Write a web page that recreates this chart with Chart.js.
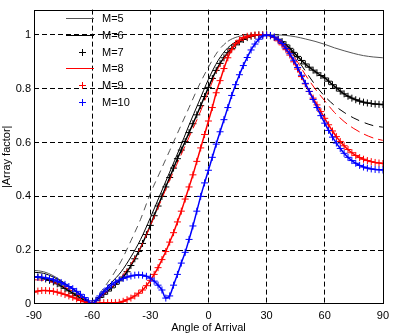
<!DOCTYPE html>
<html>
<head>
<meta charset="utf-8">
<script src="https://cdn.jsdelivr.net/npm/chart.js@4.4.0/dist/chart.umd.min.js"></script>
<style>
  html, body { margin: 0; padding: 0; background: #fff; }
  #wrap { width: 394px; height: 336px; }
</style>
</head>
<body>
<div id="wrap"><canvas id="af-chart" width="394" height="336"></canvas></div>
<script>
// angle grids (degrees)
const anglesCoarse = [-90,-85,-80,-75,-70,-65,-60,-55,-50,-45,-40,-35,-30,-25,-20,-15,-10,-5,0,5,10,15,20,25,30,35,40,45,50,55,60,65,70,75,80,85,90];
const anglesFine = [-90,-88,-86,-84,-82,-80,-78,-76,-74,-72,-70,-68,-66,-64,-62,-60,-58,-56,-54,-52,-50,-48,-46,-44,-42,-40,-38,-36,-34,-32,-30,-28,-26,-24,-22,-20,-18,-16,-14,-12,-10,-8,-6,-4,-2,0,2,4,6,8,10,12,14,16,18,20,22,24,26,28,30,32,34,36,38,40,42,44,46,48,50,52,54,56,58,60,62,64,66,68,70,72,74,76,78,80,82,84,86,88,90];

const xTicks = [-90, -60, -30, 0, 30, 60, 90];
const yTicks = [0, 0.2, 0.4, 0.6, 0.8, 1];
const seriesLabels = ['M=5', 'M=6', 'M=7', 'M=8', 'M=9', 'M=10'];

// line series (on anglesCoarse)
const m5 = [0.125,0.12,0.105,0.082,0.056,0.027,0.0,0.05,0.1,0.16,0.235,0.315,0.41,0.49,0.57,0.65,0.73,0.81,0.88,0.94,0.976,0.993,1.0,1.0,1.0,1.0,0.998,0.993,0.985,0.976,0.965,0.952,0.941,0.931,0.923,0.918,0.915];
const m6 = [0.118,0.114,0.1,0.08,0.055,0.027,0.0,0.042,0.08,0.12,0.175,0.24,0.32,0.405,0.49,0.575,0.665,0.75,0.835,0.905,0.952,0.978,0.994,1.0,1.0,0.99,0.962,0.918,0.866,0.815,0.772,0.738,0.712,0.691,0.675,0.663,0.657];
const m8 = [0.09,0.088,0.08,0.066,0.047,0.024,0.0,0.03,0.06,0.1,0.148,0.21,0.29,0.375,0.46,0.54,0.62,0.7,0.79,0.875,0.932,0.97,0.99,0.998,1.0,0.99,0.958,0.91,0.852,0.8,0.755,0.712,0.678,0.652,0.632,0.617,0.608];

// marker series (on anglesFine)
const m7 = [0.1,0.1,0.097,0.093,0.088,0.082,0.075,0.067,0.058,0.049,0.04,0.031,0.022,0.014,0.006,0.0,0.012,0.024,0.036,0.048,0.06,0.073,0.086,0.1,0.12,0.143,0.168,0.195,0.225,0.258,0.292,0.328,0.364,0.4,0.435,0.47,0.505,0.54,0.572,0.604,0.637,0.67,0.703,0.737,0.771,0.805,0.838,0.868,0.894,0.915,0.934,0.95,0.963,0.974,0.983,0.99,0.995,0.998,1.0,1.0,1.0,0.997,0.991,0.984,0.975,0.963,0.95,0.935,0.92,0.905,0.892,0.88,0.869,0.859,0.849,0.84,0.828,0.815,0.803,0.791,0.781,0.772,0.765,0.759,0.754,0.75,0.747,0.745,0.743,0.742,0.741];
const m9 = [0.044,0.048,0.05,0.05,0.049,0.047,0.044,0.04,0.035,0.03,0.025,0.019,0.013,0.008,0.003,0.0,0.002,0.004,0.005,0.005,0.005,0.005,0.006,0.01,0.016,0.022,0.03,0.04,0.052,0.068,0.088,0.11,0.135,0.165,0.195,0.23,0.265,0.305,0.345,0.39,0.435,0.48,0.53,0.58,0.63,0.68,0.73,0.785,0.83,0.875,0.915,0.945,0.967,0.98,0.99,0.995,0.998,1.0,1.0,1.0,1.0,0.997,0.99,0.978,0.963,0.945,0.925,0.9,0.873,0.845,0.818,0.79,0.765,0.74,0.715,0.69,0.666,0.643,0.622,0.604,0.588,0.574,0.562,0.552,0.544,0.538,0.533,0.529,0.526,0.524,0.522];
const m10 = [0.1,0.1,0.099,0.097,0.094,0.09,0.085,0.08,0.073,0.065,0.057,0.047,0.036,0.024,0.012,0.0,0.014,0.03,0.045,0.059,0.071,0.081,0.089,0.095,0.1,0.104,0.107,0.108,0.107,0.103,0.096,0.085,0.07,0.052,0.022,0.03,0.07,0.11,0.152,0.192,0.24,0.29,0.345,0.4,0.45,0.497,0.545,0.594,0.64,0.685,0.73,0.775,0.815,0.852,0.886,0.916,0.944,0.966,0.984,0.996,1.0,0.998,0.992,0.982,0.968,0.95,0.93,0.906,0.879,0.85,0.82,0.79,0.76,0.73,0.7,0.672,0.645,0.62,0.598,0.578,0.56,0.545,0.533,0.523,0.515,0.509,0.505,0.502,0.5,0.499,0.498];

function pts(xs, ys) {
  return xs.map((x, i) => ({ x: x, y: ys[i] }));
}

const FONT = '"Liberation Sans", Arial, Helvetica, sans-serif';

function lineSet(label, xs, ys, color, order, segDash) {
  return {
    label: label,
    data: pts(xs, ys),
    borderColor: color,
    backgroundColor: color,
    borderWidth: 1,
    pointRadius: 0,
    cubicInterpolationMode: 'monotone',
    order: order,
    segment: { borderDash: segDash }
  };
}

function markerSet(label, xs, ys, color, order) {
  return {
    label: label,
    data: pts(xs, ys),
    borderColor: color,
    backgroundColor: color,
    borderWidth: 1.5,
    showLine: true,
    cubicInterpolationMode: 'monotone',
    pointStyle: 'cross',
    pointRadius: 3.5,
    pointBorderWidth: 1,
    pointBorderColor: color,
    order: order
  };
}

// dash the thin lines where the reference shows them broken
const steepDash = c => {
  const s = Math.abs((c.p1.y - c.p0.y) / (c.p1.x - c.p0.x));
  return s > 0.9 ? [7, 5] : undefined;
};
const rightDash = c => (c.p0.parsed.x >= 30 ? [9, 6] : undefined);
const allDash = () => [10, 5];

const boxPlugin = {
  id: 'box',
  afterDatasetsDraw(chart) {
    const a = chart.chartArea;
    const ctx = chart.ctx;
    ctx.save();
    ctx.strokeStyle = '#000';
    ctx.lineWidth = 1;
    ctx.setLineDash([]);
    ctx.strokeRect(Math.round(a.left) + 0.5, Math.round(a.top) + 0.5,
      Math.round(a.right - a.left), Math.round(a.bottom - a.top) - 1);
    ctx.restore();
  }
};

const legendPlugin = {
  id: 'insideLegend',
  afterDraw(chart) {
    const ctx = chart.ctx;
    ctx.save();
    ctx.font = '11px ' + FONT;
    ctx.textBaseline = 'middle';
    ctx.textAlign = 'left';
    seriesLabels.forEach((lab, i) => {
      const ds = chart.data.datasets.find(d => d.label === lab);
      const y = Math.round(18 + i * 16.8) + 0.5;
      ctx.strokeStyle = ds.borderColor;
      ctx.lineWidth = 1;
      ctx.setLineDash([]);
      ctx.beginPath();
      if (ds.pointStyle === 'cross') {
        ctx.moveTo(79, y); ctx.lineTo(86, y);
        ctx.moveTo(82.5, y - 3.5); ctx.lineTo(82.5, y + 3.5);
      } else {
        ctx.moveTo(66, y); ctx.lineTo(94, y);
      }
      ctx.stroke();
      ctx.fillStyle = '#000';
      ctx.fillText(lab, 102, y);
    });
    ctx.restore();
  }
};

const gridColor = (edgeVals) => c => (edgeVals.includes(c.tick.value) ? 'rgba(0,0,0,0)' : '#000');

new Chart(document.getElementById('af-chart').getContext('2d'), {
  type: 'line',
  data: {
    datasets: [
      lineSet(seriesLabels[0], anglesCoarse, m5, '#555555', 5, steepDash),
      lineSet(seriesLabels[1], anglesCoarse, m6, '#000000', 4, rightDash),
      markerSet(seriesLabels[2], anglesFine, m7, '#000000', 3),
      lineSet(seriesLabels[3], anglesCoarse, m8, '#ff0000', 2, allDash),
      markerSet(seriesLabels[4], anglesFine, m9, '#ff0000', 1),
      markerSet(seriesLabels[5], anglesFine, m10, '#0000ff', 0)
    ]
  },
  options: {
    responsive: false,
    animation: false,
    devicePixelRatio: 1,
    layout: { padding: { top: 2, right: 9, left: 0, bottom: 0 } },
    plugins: {
      legend: { display: false },
      tooltip: { enabled: false }
    },
    scales: {
      x: {
        type: 'linear',
        min: -90,
        max: 90,
        afterBuildTicks: s => { s.ticks = xTicks.map(v => ({ value: v })); },
        afterFit: s => { s.height = 32; },
        grid: { color: gridColor([-90, 90]), lineWidth: 1, drawTicks: false },
        border: { display: false, dash: [5, 3] },
        ticks: { color: '#000', padding: 5, maxRotation: 0, font: { family: FONT, size: 11 } },
        title: { display: true, text: 'Angle of Arrival', color: '#000', padding: { top: 0, bottom: 1 }, font: { family: FONT, size: 11 } }
      },
      y: {
        min: 0,
        max: 1.094,
        afterBuildTicks: s => { s.ticks = yTicks.map(v => ({ value: v })); },
        afterFit: s => { s.width = 34; },
        grid: { color: gridColor([0]), lineWidth: 1, drawTicks: false },
        border: { display: false, dash: [5, 3] },
        ticks: { color: '#000', padding: 3, callback: v => String(v), font: { family: FONT, size: 11 } },
        title: { display: true, text: '|Array factor|', color: '#000', padding: 0, font: { family: FONT, size: 11 } }
      }
    }
  },
  plugins: [boxPlugin, legendPlugin]
});
</script>
</body>
</html>
